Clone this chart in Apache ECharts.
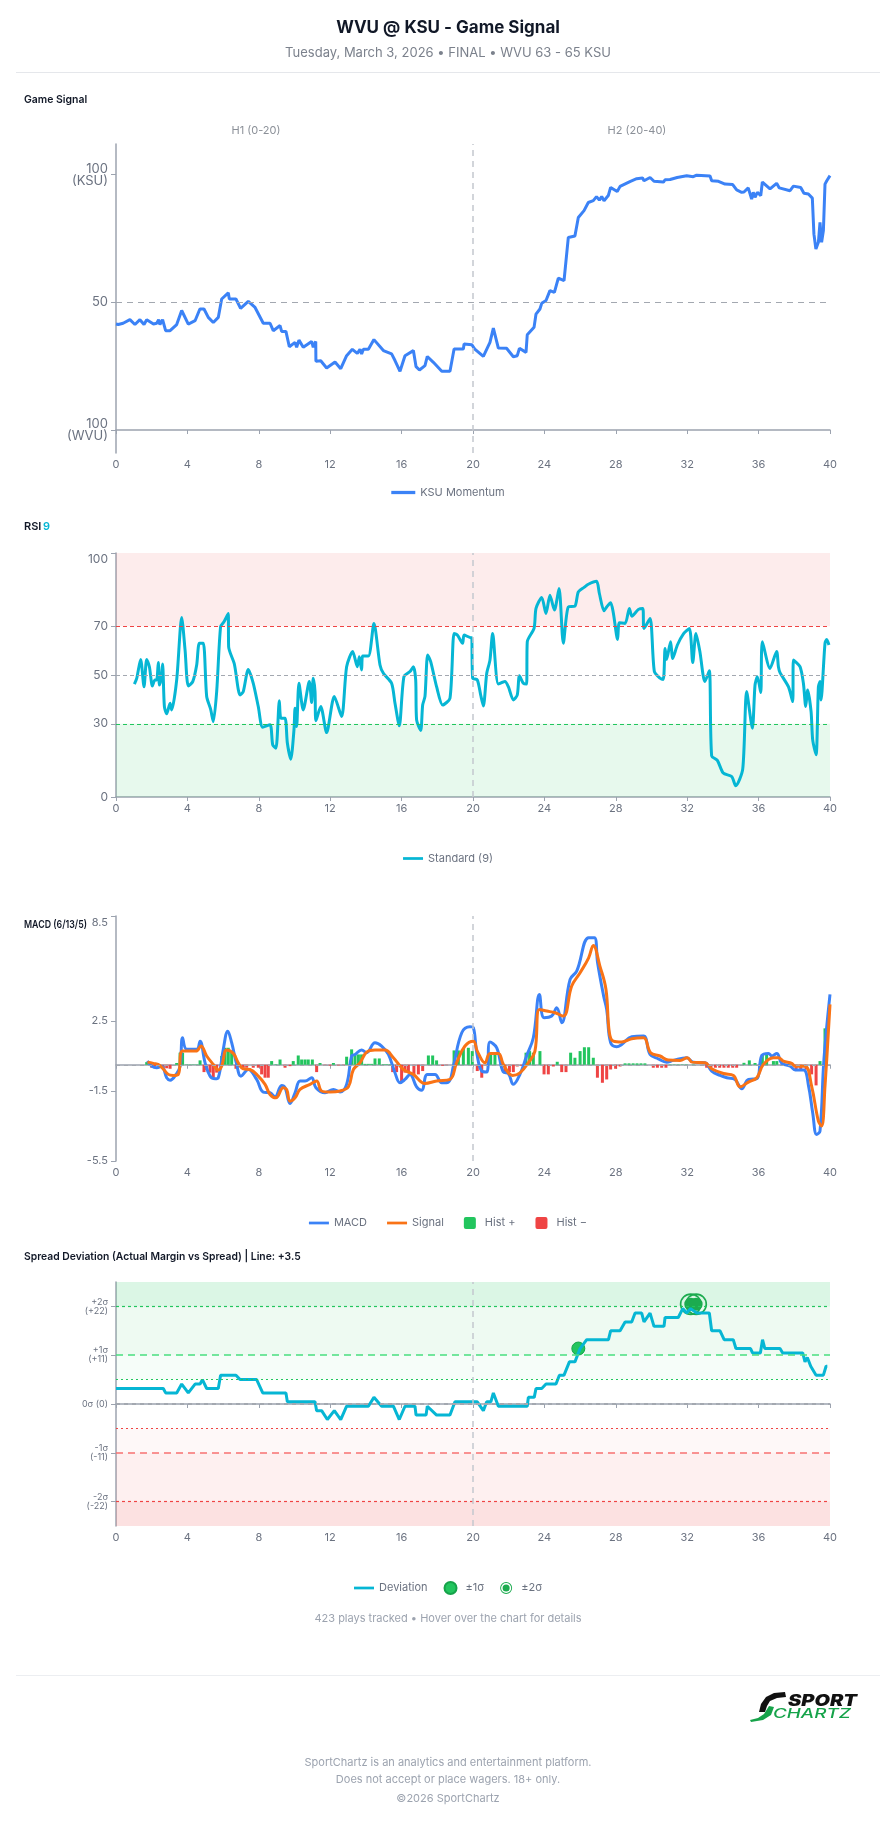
<!DOCTYPE html>
<html>
<head>
<meta charset="utf-8">
<title>WVU @ KSU - Game Signal</title>
<script src="https://cdn.jsdelivr.net/npm/echarts@6/dist/echarts.min.js"></script>
<style>
  html, body { margin: 0; padding: 0; background: #fff; }
  #chart { width: 896px; height: 1824px; }
</style>
</head>
<body>
<div id="chart"></div>
<script>
// game minute -> value
const momentum = [[0,41.5],[0.13,41.3],[0.4,41.8],[0.78,43.2],[1.06,41.3],[1.34,43.2],[1.57,41.3],[1.72,43.2],[2.1,41.5],[2.28,41.8],[2.39,43.2],[2.46,41.3],[2.61,43.2],[2.78,38.9],[3.03,38.9],[3.4,41.3],[3.68,46.8],[4.05,41.5],[4.43,42.8],[4.7,47.4],[4.93,47.4],[5.17,44.1],[5.45,42.1],[5.73,44.1],[5.92,51.3],[6.29,53.7],[6.35,51.3],[6.72,51.3],[6.98,47.6],[7.41,50.4],[7.79,48.0],[8.25,41.8],[8.63,41.8],[8.81,38.9],[9.19,40.9],[9.28,38.6],[9.52,38.6],[9.71,32.6],[10.03,34.3],[10.12,32.4],[10.25,35.2],[10.49,32.4],[10.96,34.7],[11.05,32.4],[11.19,34.7],[11.2,26.9],[11.47,27.1],[11.8,24.3],[12.27,26.6],[12.59,24.0],[12.92,29.1],[13.24,31.6],[13.52,30.0],[13.67,31.6],[13.76,29.8],[13.86,31.6],[14.14,31.6],[14.45,35.4],[14.98,31.1],[15.44,29.8],[15.63,27.2],[15.91,23.0],[16.19,29.1],[16.66,31.1],[16.81,24.8],[17.0,23.5],[17.31,25.2],[17.44,28.8],[17.78,26.5],[18.25,23.0],[18.71,23.0],[18.94,31.7],[19.46,31.7],[19.5,33.7],[19.93,33.4],[20.1,31.7],[20.2,32.4],[20.58,28.8],[20.95,34.3],[21.14,39.9],[21.42,32.1],[21.88,32.0],[22.26,28.7],[22.48,29.1],[22.6,32.0],[22.97,30.4],[23.04,37.3],[23.42,40.2],[23.53,45.4],[23.75,47.4],[23.85,49.6],[24.09,50.7],[24.31,54.6],[24.56,53.9],[24.78,59.5],[25.1,58.5],[25.34,75.4],[25.71,76.0],[25.9,83.2],[26.22,85.9],[26.46,89.1],[26.74,89.8],[26.92,91.4],[27.08,90.0],[27.21,91.4],[27.34,89.8],[27.58,91.8],[27.71,95.0],[28.08,93.4],[28.24,95.4],[28.79,97.3],[29.17,98.4],[29.5,98.7],[29.58,97.6],[29.92,98.9],[30.14,97.4],[30.67,97.1],[30.76,98.0],[31.04,98.1],[31.44,98.9],[31.97,99.6],[32.34,99.2],[32.53,99.8],[33.28,99.5],[33.37,97.6],[33.75,97.4],[34.12,96.3],[34.55,96.1],[34.77,94.0],[35.05,93.1],[35.18,93.2],[35.42,94.8],[35.61,90.4],[35.7,93.1],[35.8,91.1],[35.93,93.1],[36.12,91.8],[36.21,97.1],[36.64,94.4],[37.01,96.6],[37.16,94.8],[37.76,93.7],[37.95,95.5],[38.36,95.0],[38.54,92.7],[38.79,92.4],[39.01,90.8],[39.1,76.7],[39.21,70.9],[39.35,73.5],[39.44,81.3],[39.53,73.5],[39.63,78.1],[39.72,96.3],[39.82,97.6],[39.87,97.2],[40.0,99.6]];

const rsi = [[1.03,46.3],[1.16,48.6],[1.38,56.4],[1.57,45.2],[1.72,56.4],[1.87,53.4],[2.04,45.5],[2.18,48.0],[2.28,48.0],[2.37,55.1],[2.43,45.9],[2.52,48.0],[2.61,54.5],[2.71,37.1],[2.84,34.1],[3.03,38.4],[3.12,35.7],[3.4,48.0],[3.68,73.6],[3.87,60.2],[4.05,45.5],[4.3,47.3],[4.52,54.1],[4.67,63.0],[4.89,63.0],[5.08,41.2],[5.3,36.0],[5.45,30.9],[5.64,43.2],[5.86,69.8],[6.05,71.8],[6.29,75.2],[6.31,61.6],[6.63,54.5],[6.95,41.8],[7.13,43.2],[7.41,52.3],[7.69,46.6],[7.97,37.1],[8.22,28.6],[8.63,29.6],[8.78,21.4],[8.96,20.0],[9.15,39.4],[9.24,32.3],[9.47,32.3],[9.6,22.1],[9.79,15.5],[9.97,27.5],[10.03,36.4],[10.12,28.9],[10.25,46.6],[10.49,35.7],[10.83,47.3],[10.96,38.7],[11.05,48.7],[11.15,43.2],[11.2,31.3],[11.47,37.1],[11.8,26.4],[12.23,41.2],[12.64,33.0],[12.92,53.4],[13.26,59.6],[13.52,53.4],[13.63,57.5],[13.76,52.1],[13.82,57.8],[14.14,57.8],[14.45,71.1],[14.79,54.1],[14.98,50.7],[15.44,46.6],[15.63,38.4],[15.87,29.2],[16.13,49.3],[16.47,51.4],[16.66,53.4],[16.79,48.0],[16.84,31.6],[17.07,27.3],[17.18,37.7],[17.31,41.2],[17.46,58.2],[17.63,55.5],[17.96,45.2],[18.3,37.7],[18.71,40.5],[18.94,67.0],[19.12,66.4],[19.42,63.0],[19.5,66.4],[19.87,65.3],[19.93,65.3],[19.98,48.7],[20.24,48.0],[20.43,41.8],[20.58,37.3],[20.77,50.7],[20.95,56.1],[21.1,67.0],[21.42,46.3],[21.79,47.3],[21.98,45.2],[22.26,39.8],[22.48,41.8],[22.6,49.7],[22.82,46.6],[23.0,46.3],[23.04,63.6],[23.42,69.1],[23.53,77.3],[23.85,81.8],[24.09,75.2],[24.31,82.7],[24.56,76.6],[24.82,85.4],[25.06,63.0],[25.34,77.9],[25.71,78.2],[25.9,84.1],[26.22,85.9],[26.46,87.2],[26.92,88.4],[27.08,83.4],[27.34,76.3],[27.49,77.9],[27.71,79.6],[27.86,75.5],[28.1,64.6],[28.2,71.4],[28.52,71.1],[28.76,77.3],[28.9,74.1],[29.27,76.9],[29.51,77.3],[29.58,69.1],[29.92,73.2],[30.16,51.4],[30.48,48.7],[30.66,48.2],[30.76,60.9],[30.85,56.4],[31.07,63.6],[31.19,56.8],[31.45,62.3],[31.78,66.8],[32.12,69.1],[32.31,55.1],[32.49,67.0],[32.71,59.6],[32.99,47.3],[33.24,51.7],[33.37,16.9],[33.69,15.0],[34.02,9.8],[34.49,8.4],[34.72,4.6],[35.11,11.4],[35.33,43.2],[35.65,28.2],[35.8,45.9],[35.93,49.3],[36.12,42.8],[36.21,63.6],[36.64,52.7],[37.01,59.6],[37.11,53.4],[37.2,51.0],[37.67,45.2],[37.91,39.1],[37.95,56.1],[38.32,53.4],[38.51,46.6],[38.64,37.1],[38.75,43.9],[38.94,35.0],[39.03,23.4],[39.22,17.3],[39.35,45.2],[39.44,47.3],[39.5,39.8],[39.72,63.0],[39.82,64.6],[39.94,62.3]];

const macd = [[1.76,0.21],[2.0,-0.08],[2.28,-0.17],[2.56,-0.08],[2.84,-0.74],[3.03,-0.88],[3.4,-0.5],[3.59,-0.08],[3.73,1.54],[3.96,0.88],[4.52,0.88],[4.71,1.35],[4.99,0.11],[5.27,-0.65],[5.55,-0.8],[5.73,-0.74],[6.01,0.88],[6.26,1.92],[6.48,1.26],[6.76,0.02],[7.0,-0.65],[7.41,-0.27],[7.88,-0.84],[8.25,-1.56],[8.63,-1.6],[8.91,-1.83],[9.28,-1.18],[9.47,-1.31],[9.75,-2.21],[10.03,-1.6],[10.31,-0.93],[10.59,-0.93],[10.96,-0.74],[11.2,-1.31],[11.71,-1.6],[12.18,-1.41],[12.55,-1.56],[12.92,-1.12],[13.2,0.5],[13.39,0.59],[13.76,0.84],[14.04,0.69],[14.51,1.26],[14.88,1.07],[15.26,0.59],[15.63,-0.46],[15.91,-1.03],[16.19,-0.84],[16.47,-0.55],[16.84,-1.26],[17.12,-1.45],[17.44,-0.55],[17.87,-0.55],[18.25,-1.03],[18.62,-0.99],[18.9,-0.08],[19.37,1.83],[19.83,2.17],[20.02,2.11],[20.21,0.69],[20.49,-0.36],[20.77,-0.42],[20.95,1.3],[21.33,0.97],[21.7,-0.42],[21.98,-0.5],[22.26,-1.12],[22.63,-0.55],[23.0,0.5],[23.38,1.54],[23.72,4.02],[23.98,2.69],[24.41,2.78],[24.69,3.26],[24.97,2.4],[25.44,4.88],[25.81,5.35],[26.48,7.26],[26.8,7.26],[26.98,5.83],[27.32,3.92],[27.49,3.16],[27.71,1.26],[28.05,1.03],[28.33,1.16],[28.89,1.6],[29.55,1.64],[29.92,0.59],[30.38,0.34],[30.85,0.15],[31.22,0.25],[31.97,0.4],[32.34,0.15],[33.0,0.11],[33.37,-0.36],[33.84,-0.61],[34.22,-0.74],[34.68,-0.84],[35.06,-1.37],[35.43,-0.84],[35.9,-0.8],[36.18,0.53],[36.55,0.65],[36.74,0.5],[37.02,0.65],[37.3,0.08],[37.77,-0.08],[38.05,-0.3],[38.52,-0.3],[38.8,-1.22],[39.03,-2.74],[39.25,-3.98],[39.44,-3.79],[39.66,0.3],[40.0,4.02]];

const signal = [[1.76,0.15],[2.09,0.08],[2.46,-0.04],[2.93,-0.55],[3.21,-0.61],[3.49,-0.55],[3.73,0.78],[4.48,0.78],[4.76,1.07],[5.08,0.5],[5.45,0.02],[5.73,-0.3],[5.92,-0.08],[6.2,0.84],[6.57,0.65],[6.85,0.11],[7.13,-0.23],[7.51,-0.27],[7.97,-0.65],[8.35,-1.12],[8.63,-1.7],[8.96,-1.89],[9.37,-1.31],[9.56,-1.41],[9.75,-2.08],[10.03,-1.89],[10.31,-1.41],[10.87,-1.12],[11.24,-0.93],[11.52,-1.5],[11.99,-1.56],[12.55,-1.5],[13.02,-1.26],[13.3,-0.27],[13.67,0.11],[14.04,0.72],[14.51,0.84],[15.07,0.84],[15.54,0.4],[16.1,-0.27],[16.66,-0.55],[17.31,-1.07],[17.96,-0.93],[18.71,-0.84],[19.08,0.11],[19.55,1.07],[20.02,1.35],[20.24,0.78],[20.67,0.11],[20.95,0.65],[21.42,0.65],[21.7,0.02],[22.22,-0.61],[22.63,-0.46],[23.1,0.11],[23.47,0.78],[23.72,3.16],[24.13,3.07],[24.6,2.97],[25.06,2.78],[25.53,4.5],[26.0,5.26],[26.48,6.11],[26.74,6.82],[27.11,5.64],[27.45,4.3],[27.64,1.83],[27.86,1.35],[28.33,1.3],[28.89,1.49],[29.55,1.54],[29.95,0.69],[30.48,0.5],[30.94,0.27],[31.6,0.25],[32.01,0.4],[32.27,0.15],[33.0,0.11],[33.37,-0.23],[34.03,-0.5],[34.59,-0.61],[34.96,-1.26],[35.43,-0.99],[35.9,-0.74],[36.27,0.02],[36.83,0.4],[37.11,0.4],[37.39,0.21],[37.86,0.08],[38.05,-0.08],[38.6,-0.08],[38.97,-1.22],[39.35,-3.22],[39.53,-3.5],[39.72,-1.22],[40.0,3.45]];

const hist = [[1.72,0.15],[2.0,-0.17],[2.18,-0.1],[2.65,-0.17],[2.84,-0.2],[3.03,-0.23],[3.4,0.1],[3.59,0.69],[3.73,0.69],[3.96,0.02],[4.15,0.02],[4.33,0.02],[4.52,0.02],[4.71,0.25],[4.93,-0.42],[5.08,-0.3],[5.27,-0.45],[5.45,-0.74],[5.64,-0.45],[5.92,0.5],[6.11,0.97],[6.29,0.97],[6.48,0.78],[6.72,-0.23],[6.91,-0.15],[7.13,-0.17],[7.32,-0.17],[7.69,-0.17],[7.97,-0.17],[8.16,-0.55],[8.35,-0.74],[8.53,-0.74],[8.72,0.21],[8.96,0.03],[9.19,0.3],[9.47,-0.17],[9.75,-0.08],[9.93,0.21],[10.21,0.53],[10.4,0.3],[10.59,0.3],[10.77,0.3],[11.0,0.3],[11.24,-0.42],[11.43,0.1],[11.71,-0.05],[11.99,-0.05],[12.18,0.1],[12.46,-0.04],[12.74,-0.04],[12.92,0.46],[13.2,0.88],[13.39,0.59],[13.58,0.59],[13.76,0.59],[13.95,0.05],[14.14,0.05],[14.32,0.05],[14.51,0.36],[14.75,0.36],[14.98,0.03],[15.16,0.03],[15.35,0.03],[15.5,-0.42],[15.72,-0.42],[16.0,-0.99],[16.19,-0.45],[16.38,-0.4],[16.69,-0.55],[16.94,-0.55],[17.18,-0.36],[17.5,0.53],[17.74,0.53],[17.96,0.25],[18.3,-0.06],[18.52,-0.06],[18.94,0.82],[19.18,0.82],[19.46,0.91],[19.74,0.97],[19.96,0.78],[20.24,-0.36],[20.49,-0.74],[20.77,-0.06],[20.99,0.59],[21.23,0.59],[21.79,-0.42],[22.04,-0.42],[22.26,-0.42],[22.48,-0.1],[22.73,-0.06],[22.97,0.69],[23.17,0.78],[23.38,0.69],[23.75,0.78],[23.98,-0.55],[24.22,-0.55],[24.5,-0.1],[24.72,0.17],[24.97,-0.42],[25.21,-0.42],[25.47,0.69],[25.71,0.4],[26.0,0.78],[26.24,1.0],[26.48,1.0],[26.74,0.4],[26.97,-0.74],[27.25,-1.03],[27.49,-0.84],[27.71,-0.27],[27.99,-0.23],[28.24,-0.1],[28.52,0.08],[28.74,0.08],[28.97,0.08],[29.19,0.08],[29.41,0.08],[29.63,0.08],[30.1,-0.17],[30.33,-0.17],[30.57,-0.17],[30.81,-0.17],[31.04,0.02],[31.27,0.02],[31.49,0.02],[31.72,0.02],[31.94,0.02],[32.34,0.02],[33.09,-0.17],[33.33,-0.17],[33.58,-0.17],[33.82,-0.17],[34.06,-0.17],[34.3,-0.17],[34.55,-0.17],[34.77,-0.17],[35.18,0.11],[35.48,0.25],[35.8,0.1],[36.21,0.59],[36.45,0.59],[36.83,0.21],[37.02,0.21],[37.3,-0.05],[37.58,-0.05],[37.86,-0.05],[38.1,-0.27],[38.36,-0.27],[38.66,-0.27],[38.97,-0.55],[39.22,-1.18],[39.44,0.21],[39.72,2.08]];

const deviation = [[0,3.5],[2.65,3.5],[2.78,2.5],[3.4,2.5],[3.68,4.5],[4.05,2.5],[4.43,4.5],[4.71,4.5],[4.84,5.5],[5.08,3.5],[5.73,3.5],[5.86,6.5],[6.72,6.5],[6.95,5.5],[7.88,5.5],[8.22,2.5],[9.52,2.5],[9.6,0.5],[11.15,0.5],[11.24,-1.5],[11.52,-1.5],[11.84,-3.5],[12.23,-1.5],[12.59,-3.5],[12.92,-0.5],[14.14,-0.5],[14.45,1.5],[14.88,-0.5],[15.54,-0.5],[15.87,-3.5],[16.19,-0.5],[16.75,-0.5],[16.81,-2.5],[17.37,-2.5],[17.44,-0.5],[17.96,-2.5],[18.71,-2.5],[18.99,0.5],[20.24,0.5],[20.58,-1.5],[20.77,0.5],[21.0,0.5],[21.14,2.5],[21.42,-0.5],[23.04,-0.5],[23.1,1.5],[23.43,1.5],[23.53,3.5],[23.85,3.5],[24.09,4.5],[24.65,4.5],[24.84,6.5],[25.1,6.5],[25.4,9.5],[25.71,9.5],[26.0,12.5],[26.37,14.5],[27.59,14.5],[27.71,16.5],[28.24,16.5],[28.52,18.5],[28.89,18.5],[29.08,20.5],[29.45,20.5],[29.58,18.5],[29.92,20.5],[30.14,17.5],[30.7,17.5],[30.76,19.5],[31.5,19.5],[31.75,21.5],[31.97,20.5],[32.19,21.5],[32.53,20.5],[33.24,20.5],[33.37,16.5],[33.84,16.5],[34.07,14.5],[34.58,14.5],[34.73,12.5],[35.55,12.5],[35.66,11.5],[36.1,11.5],[36.22,14.5],[36.35,12.5],[37.2,12.5],[37.35,11.5],[38.47,11.5],[38.6,9.5],[38.73,10.5],[38.92,8.5],[39.22,6.5],[39.63,6.5],[39.78,8.5],[39.85,8.5]];

const sigma1Hits = [[25.9, 12.5]];
const sigma2Hits = [[32.2, 22.5], [32.5, 22.5]];

const minuteTicks = 4;
const momentumTicks = [0, 50, 100];
const rsiTicks = [0, 30, 50, 70, 100];
const macdTicks = [-5.5, -1.5, 2.5, 8.5];
const spreadTicks = [-22, -11, 0, 11, 22];

const FONT = 'Inter, "Noto Sans", sans-serif';
const AXIS = '#9ca3af';
const LABEL = '#6b7280';
const GREEN = '#22c55e';
const RED = '#ef4444';

const halfLine = { xAxis: 20, lineStyle: { color: '#c4c8ce', type: [6, 5], width: 1.5 } };
const ringPath = 'path://M11,0A11,11,0,1,1,11,22A11,11,0,1,1,11,0ZM11,1.7A9.3,9.3,0,1,0,11,20.3A9.3,9.3,0,1,0,11,1.7ZM11,4.5A6.5,6.5,0,1,1,11,17.5A6.5,6.5,0,1,1,11,4.5Z';
const squarePath = 'path://M2,0H10A2,2,0,0,1,12,2V10A2,2,0,0,1,10,12H2A2,2,0,0,1,0,10V2A2,2,0,0,1,2,0Z';
const linePath = 'path://M0,0H22V3H0Z';
const legendText = { color: LABEL, fontSize: 11, fontFamily: FONT };

function xAxisFor (i) {
  return {
    type: 'value', gridIndex: i, min: 0, max: 40, interval: minuteTicks,
    axisLine: { show: true, lineStyle: { color: AXIS, width: 1.5 } },
    axisTick: { show: true, length: 4, lineStyle: { color: AXIS } },
    axisLabel: { color: LABEL, fontSize: 11, fontFamily: FONT, margin: 6 },
    splitLine: { show: false }
  };
}

function yAxisFor (i, min, max, ticks, fmt, fontSize, lineHeight) {
  return {
    type: 'value', gridIndex: i, min: min, max: max,
    axisLine: { show: true, lineStyle: { color: AXIS, width: 1.5 } },
    axisTick: { show: true, length: 5, customValues: ticks, lineStyle: { color: AXIS } },
    axisLabel: {
      customValues: ticks, formatter: fmt, color: LABEL, fontSize: fontSize,
      lineHeight: lineHeight, fontFamily: FONT, margin: 8,
      rich: { top: { padding: [13, 0, 0, 0], color: LABEL, fontSize: fontSize, fontFamily: FONT } }
    },
    splitLine: { show: false }
  };
}

const sigmaLabel = v => {
  if (v === 0) return '0σ (0)';
  const s = v > 0 ? '+' : '-';
  return s + Math.abs(v / 11) + 'σ\n(' + s + Math.abs(v) + ')';
};

function text (x, y, str, opts, extra) {
  return Object.assign({
    type: 'text', x: x, y: y, silent: true,
    style: Object.assign({ text: str, fontFamily: FONT, fontSize: 11, fill: LABEL, align: 'left', verticalAlign: 'middle' }, opts || {})
  }, extra || {});
}

const chart = echarts.init(document.getElementById('chart'));

const option = {
  animation: false,
  backgroundColor: '#fff',
  textStyle: { fontFamily: FONT },
  grid: [
    { left: 116, width: 714, top: 144, height: 309 },
    { left: 116, width: 714, top: 553, height: 244 },
    { left: 116, width: 714, top: 916, height: 245 },
    { left: 116, width: 714, top: 1282, height: 244 }
  ],
  xAxis: [xAxisFor(0), xAxisFor(1), xAxisFor(2), xAxisFor(3)],
  yAxis: [
    yAxisFor(0, -9, 112, momentumTicks, v => v === 50 ? '50' : (v === 100 ? '100\n(KSU)' : '100\n(WVU)'), 13, 12),
    yAxisFor(1, 0, 100, rsiTicks, v => v === 100 ? '{top|100}' : String(v), 12, 12),
    yAxisFor(2, -5.5, 8.5, macdTicks, v => v === 8.5 ? '{top|8.5}' : String(v), 11, 11),
    yAxisFor(3, -27.5, 27.5, spreadTicks, sigmaLabel, 9, 9)
  ],
  legend: [
    { data: [{ name: 'KSU Momentum', icon: linePath }], left: 'center', top: 482, itemWidth: 24, itemHeight: 12, textStyle: legendText },
    { data: [{ name: 'Standard (9)', icon: linePath }], left: 'center', top: 848, itemWidth: 20, itemHeight: 12, textStyle: legendText },
    {
      data: [{ name: 'MACD', icon: linePath }, { name: 'Signal', icon: linePath }, { name: 'Hist +', icon: squarePath }, { name: 'Hist −', icon: squarePath }],
      left: 'center', top: 1212, itemWidth: 20, itemHeight: 12, itemGap: 20, textStyle: legendText
    },
    {
      data: [{ name: 'Deviation', icon: linePath }, { name: '±1σ' }, { name: '±2σ' }],
      left: 'center', top: 1576, itemWidth: 20, itemHeight: 12, itemGap: 16, textStyle: legendText
    }
  ],
  series: [
    {
      name: 'KSU Momentum', type: 'line', xAxisIndex: 0, yAxisIndex: 0, data: momentum,
      symbol: 'none', lineStyle: { color: '#3b82f6', width: 3 }, itemStyle: { color: '#3b82f6' },
      markLine: {
        silent: true, symbol: ['none', 'none'], label: { show: false },
        data: [{ yAxis: 50, lineStyle: { color: '#a3a8b0', type: [6, 5], width: 1.2 } }, halfLine]
      }
    },
    {
      name: 'Standard (9)', type: 'line', xAxisIndex: 1, yAxisIndex: 1, data: rsi, smooth: 0.25,
      symbol: 'none', lineStyle: { color: '#06b6d4', width: 3 }, itemStyle: { color: '#06b6d4' },
      markArea: {
        silent: true,
        data: [
          [{ yAxis: 70, itemStyle: { color: 'rgba(239,68,68,0.10)' } }, { yAxis: 100 }],
          [{ yAxis: 0, itemStyle: { color: 'rgba(34,197,94,0.11)' } }, { yAxis: 30 }]
        ]
      },
      markLine: {
        silent: true, symbol: ['none', 'none'], label: { show: false },
        data: [
          { yAxis: 70, lineStyle: { color: RED, type: [4, 3], width: 1.2 } },
          { yAxis: 50, lineStyle: { color: '#a3a8b0', type: [4, 3], width: 1.2 } },
          { yAxis: 30, lineStyle: { color: GREEN, type: [4, 3], width: 1.2 } },
          halfLine
        ]
      }
    },
    {
      name: 'Hist +', type: 'bar', xAxisIndex: 2, yAxisIndex: 2, barWidth: 3, barGap: '-100%',
      data: hist.filter(d => d[1] >= 0), itemStyle: { color: GREEN },
      markLine: {
        silent: true, symbol: ['none', 'none'], label: { show: false },
        data: [{ yAxis: 0, lineStyle: { color: '#a3a8b0', type: [4, 4], width: 1 } }, halfLine]
      }
    },
    {
      name: 'Hist −', type: 'bar', xAxisIndex: 2, yAxisIndex: 2, barWidth: 3, barGap: '-100%',
      data: hist.filter(d => d[1] < 0), itemStyle: { color: RED }
    },
    {
      name: 'MACD', type: 'line', xAxisIndex: 2, yAxisIndex: 2, data: macd, smooth: 0.4,
      symbol: 'none', lineStyle: { color: '#3b82f6', width: 3 }, itemStyle: { color: '#3b82f6' }
    },
    {
      name: 'Signal', type: 'line', xAxisIndex: 2, yAxisIndex: 2, data: signal, smooth: 0.4,
      symbol: 'none', lineStyle: { color: '#f97316', width: 3 }, itemStyle: { color: '#f97316' }
    },
    {
      name: 'Deviation', type: 'line', xAxisIndex: 3, yAxisIndex: 3, data: deviation,
      symbol: 'none', lineStyle: { color: '#06b6d4', width: 3 }, itemStyle: { color: '#06b6d4' },
      markArea: {
        silent: true,
        data: [
          [{ yAxis: 22, itemStyle: { color: 'rgba(34,197,94,0.16)' } }, { yAxis: 27.5 }],
          [{ yAxis: 11, itemStyle: { color: 'rgba(34,197,94,0.08)' } }, { yAxis: 22 }],
          [{ yAxis: 5.5, itemStyle: { color: 'rgba(34,197,94,0.04)' } }, { yAxis: 11 }],
          [{ yAxis: -11, itemStyle: { color: 'rgba(239,68,68,0.04)' } }, { yAxis: -5.5 }],
          [{ yAxis: -22, itemStyle: { color: 'rgba(239,68,68,0.08)' } }, { yAxis: -11 }],
          [{ yAxis: -27.5, itemStyle: { color: 'rgba(239,68,68,0.16)' } }, { yAxis: -22 }]
        ]
      },
      markLine: {
        silent: true, symbol: ['none', 'none'], label: { show: false },
        data: [
          { yAxis: 22, lineStyle: { color: GREEN, type: [3, 3], width: 1.2 } },
          { yAxis: 11, lineStyle: { color: '#4ade80', type: [7, 5], width: 1.5 } },
          { yAxis: 5.5, lineStyle: { color: GREEN, type: [2, 3], width: 1 } },
          { yAxis: 0, lineStyle: { color: '#a3a8b0', type: [4, 4], width: 2 } },
          { yAxis: -5.5, lineStyle: { color: RED, type: [2, 3], width: 1 } },
          { yAxis: -11, lineStyle: { color: '#f87171', type: [7, 5], width: 1.5 } },
          { yAxis: -22, lineStyle: { color: RED, type: [3, 3], width: 1.2 } },
          halfLine
        ]
      }
    },
    {
      name: '±1σ', type: 'scatter', xAxisIndex: 3, yAxisIndex: 3, data: sigma1Hits,
      symbol: 'circle', symbolSize: 13, itemStyle: { color: GREEN, borderColor: '#16a34a', borderWidth: 1, opacity: 1 }
    },
    {
      name: '±2σ', type: 'scatter', xAxisIndex: 3, yAxisIndex: 3, data: sigma2Hits,
      symbol: ringPath, symbolSize: 22, itemStyle: { color: '#1cab4f', opacity: 1 }
    }
  ],
  graphic: [
    text(448, 28, 'WVU @ KSU - Game Signal', { align: 'center', fontSize: 17, fontWeight: 'bold', fill: '#111827' }),
    text(448, 53, 'Tuesday, March 3, 2026 • FINAL • WVU 63 - 65 KSU', { align: 'center', fontSize: 13, fill: '#7b818c' }),
    { type: 'rect', silent: true, shape: { x: 16, y: 72, width: 864, height: 1 }, style: { fill: '#e5e7eb' } },
    text(24, 100, 'Game Signal', { fontWeight: 600, fill: '#111827' }, { scaleX: 0.95 }),
    text(256, 131, 'H1 (0-20)', { align: 'center', fill: '#8b9098' }),
    text(637, 131, 'H2 (20-40)', { align: 'center', fill: '#8b9098' }),
    text(24, 527, 'RSI', { fontWeight: 600, fill: '#111827' }),
    text(43, 527, '9', { fontWeight: 600, fill: '#06b6d4' }),
    text(24, 925, 'MACD (6/13/5)', { fontWeight: 600, fill: '#111827' }, { scaleX: 0.8 }),
    text(24, 1257, 'Spread Deviation (Actual Margin vs Spread) | Line: +3.5', { fontWeight: 600, fill: '#111827' }, { scaleX: 0.94 }),
    text(448, 1619, '423 plays tracked • Hover over the chart for details', { align: 'center', fill: '#9ca3af' }),
    { type: 'rect', silent: true, shape: { x: 16, y: 1675, width: 864, height: 1 }, style: { fill: '#eceef1' } },
    {
      type: 'polygon', silent: true,
      shape: { points: [[759, 1712], [761, 1704], [766, 1697], [774, 1693], [785, 1692], [786, 1697], [777, 1698], [770, 1701], [767, 1706], [765, 1712]] },
      style: { fill: '#111' }
    },
    {
      type: 'polygon', silent: true,
      shape: { points: [[750, 1720], [758, 1718], [764, 1714], [769, 1706], [774, 1707], [771, 1715], [763, 1720], [751, 1722]] },
      style: { fill: '#16a34a' }
    },
    text(788, 1701, 'SPORT', { fontSize: 16, fontWeight: 900, fontStyle: 'italic', fill: '#111' }, { scaleX: 1.25 }),
    text(773, 1714, 'CHARTZ', { fontSize: 13, fontWeight: 500, fontStyle: 'italic', fill: '#16a34a' }, { scaleX: 1.45 }),
    text(448, 1763, 'SportChartz is an analytics and entertainment platform.', { align: 'center', fill: '#9ca3af' }),
    text(448, 1780, 'Does not accept or place wagers. 18+ only.', { align: 'center', fill: '#9ca3af' }),
    text(448, 1799, '©2026 SportChartz', { align: 'center', fill: '#9ca3af' })
  ]
};

chart.setOption(option);
window.addEventListener('resize', () => {
  chart.resize();
});
</script>
</body>
</html>
